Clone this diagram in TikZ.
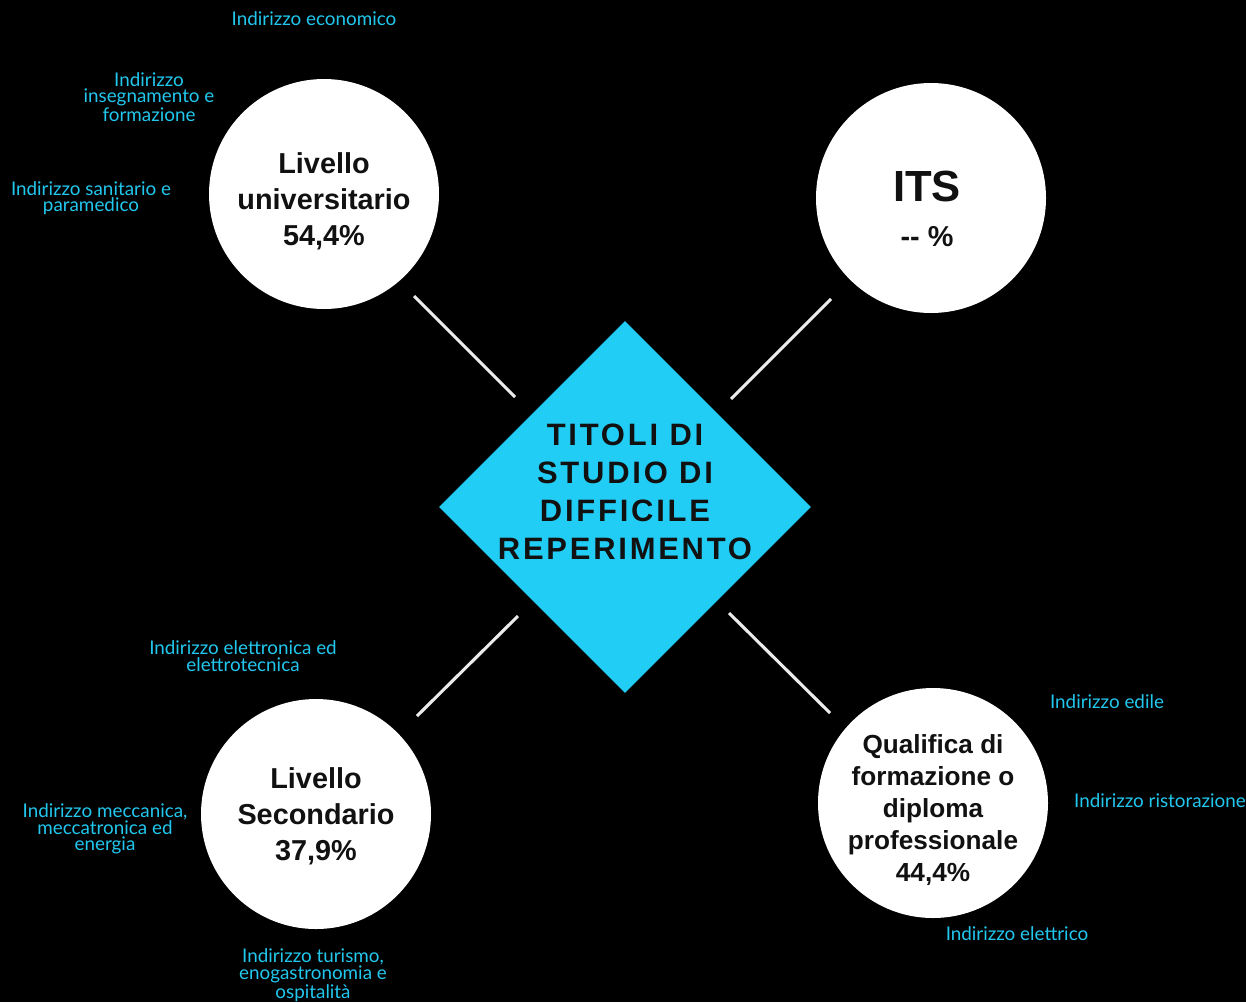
\documentclass[tikz,border=0pt]{standalone}
\usepackage{fontspec}
\setmainfont{Liberation Sans}
\newfontfamily\cyanfont{Lato}
\newfontfamily\diafont[LetterSpace=9]{Liberation Sans}
\usetikzlibrary{shapes.geometric}
\definecolor{dcyan}{HTML}{22CDF5}
\definecolor{tcyan}{HTML}{22C7EE}
\definecolor{ink}{HTML}{111111}
\tikzset{
  bubble/.style={circle,fill=white,draw=none,minimum size=230*0.025cm,inner sep=0pt},
  btext/.style={text=ink,align=center,inner sep=0pt,font=\bfseries\fontsize{20.5}{25.6}\selectfont},
  tag/.style={text=tcyan,align=center,inner sep=0pt,font=\cyanfont\fontsize{13.4}{11.8}\selectfont},
  link/.style={draw=white!92!black,line width=2.2pt},
}
\begin{document}
\begin{tikzpicture}[x=0.025cm,y=-0.025cm]
\fill[black] (0,0) rectangle (1246,1002);
\useasboundingbox (0,0) rectangle (1246,1002);
% diamond
\node[diamond,fill=dcyan,minimum width=372*0.025cm,minimum height=372*0.025cm,inner sep=0pt] (dia) at (625,507) {};
\node[text=ink,align=center,inner sep=0pt,font=\diafont\bfseries\fontsize{22}{27}\selectfont] (diat) at (625,492) {TITOLI DI\\STUDIO DI\\DIFFICILE\\REPERIMENTO};
% circles
\node[bubble] (uni) at (324,194) {};
\node[btext] (unit) at (324,201) {Livello\\universitario\\54,4\%};
\node[bubble] (its) at (931,198) {};
\node[text=ink,inner sep=0pt,font=\bfseries\fontsize{31}{31}\selectfont] (itst) at (927,186) {ITS};
\node[btext] (itsp) at (927,237) {-{}- \%};
\node[bubble] (sec) at (316,814) {};
\node[btext] (sect) at (316,816) {Livello\\Secondario\\37,9\%};
\node[bubble] (pro) at (933,803) {};
\node[btext,font=\bfseries\fontsize{18.6}{22.8}\selectfont] (prot) at (933,810) {Qualifica di\\formazione o\\diploma\\professionale\\44,4\%};
% connectors
\coordinate (a1) at (414,296); \coordinate (a2) at (515,397);
\coordinate (b1) at (831,299); \coordinate (b2) at (731,399);
\coordinate (c1) at (417,716); \coordinate (c2) at (518,616);
\coordinate (d1) at (830,713); \coordinate (d2) at (729,613);
\draw[link] (a1) -- (a2);
\draw[link] (b1) -- (b2);
\draw[link] (c1) -- (c2);
\draw[link] (d1) -- (d2);
% tags
\node[tag] (t1) at (314,19) {Indirizzo economico};
\node[tag] (t2) at (149,97) {Indirizzo\\insegnamento e\\formazione};
\node[tag] (t3) at (91,198) {Indirizzo sanitario e\\paramedico};
\node[tag] (t4) at (243,656) {Indirizzo elettronica ed\\elettrotecnica};
\node[tag] (t5) at (105,829) {Indirizzo meccanica,\\meccatronica ed\\energia};
\node[tag] (t6) at (313,975) {Indirizzo turismo,\\enogastronomia e\\ospitalità};
\node[tag] (t7) at (1107,702) {Indirizzo edile};
\node[tag] (t8) at (1160,801) {Indirizzo ristorazione};
\node[tag] (t9) at (1017,934) {Indirizzo elettrico};
\end{tikzpicture}
\end{document}
